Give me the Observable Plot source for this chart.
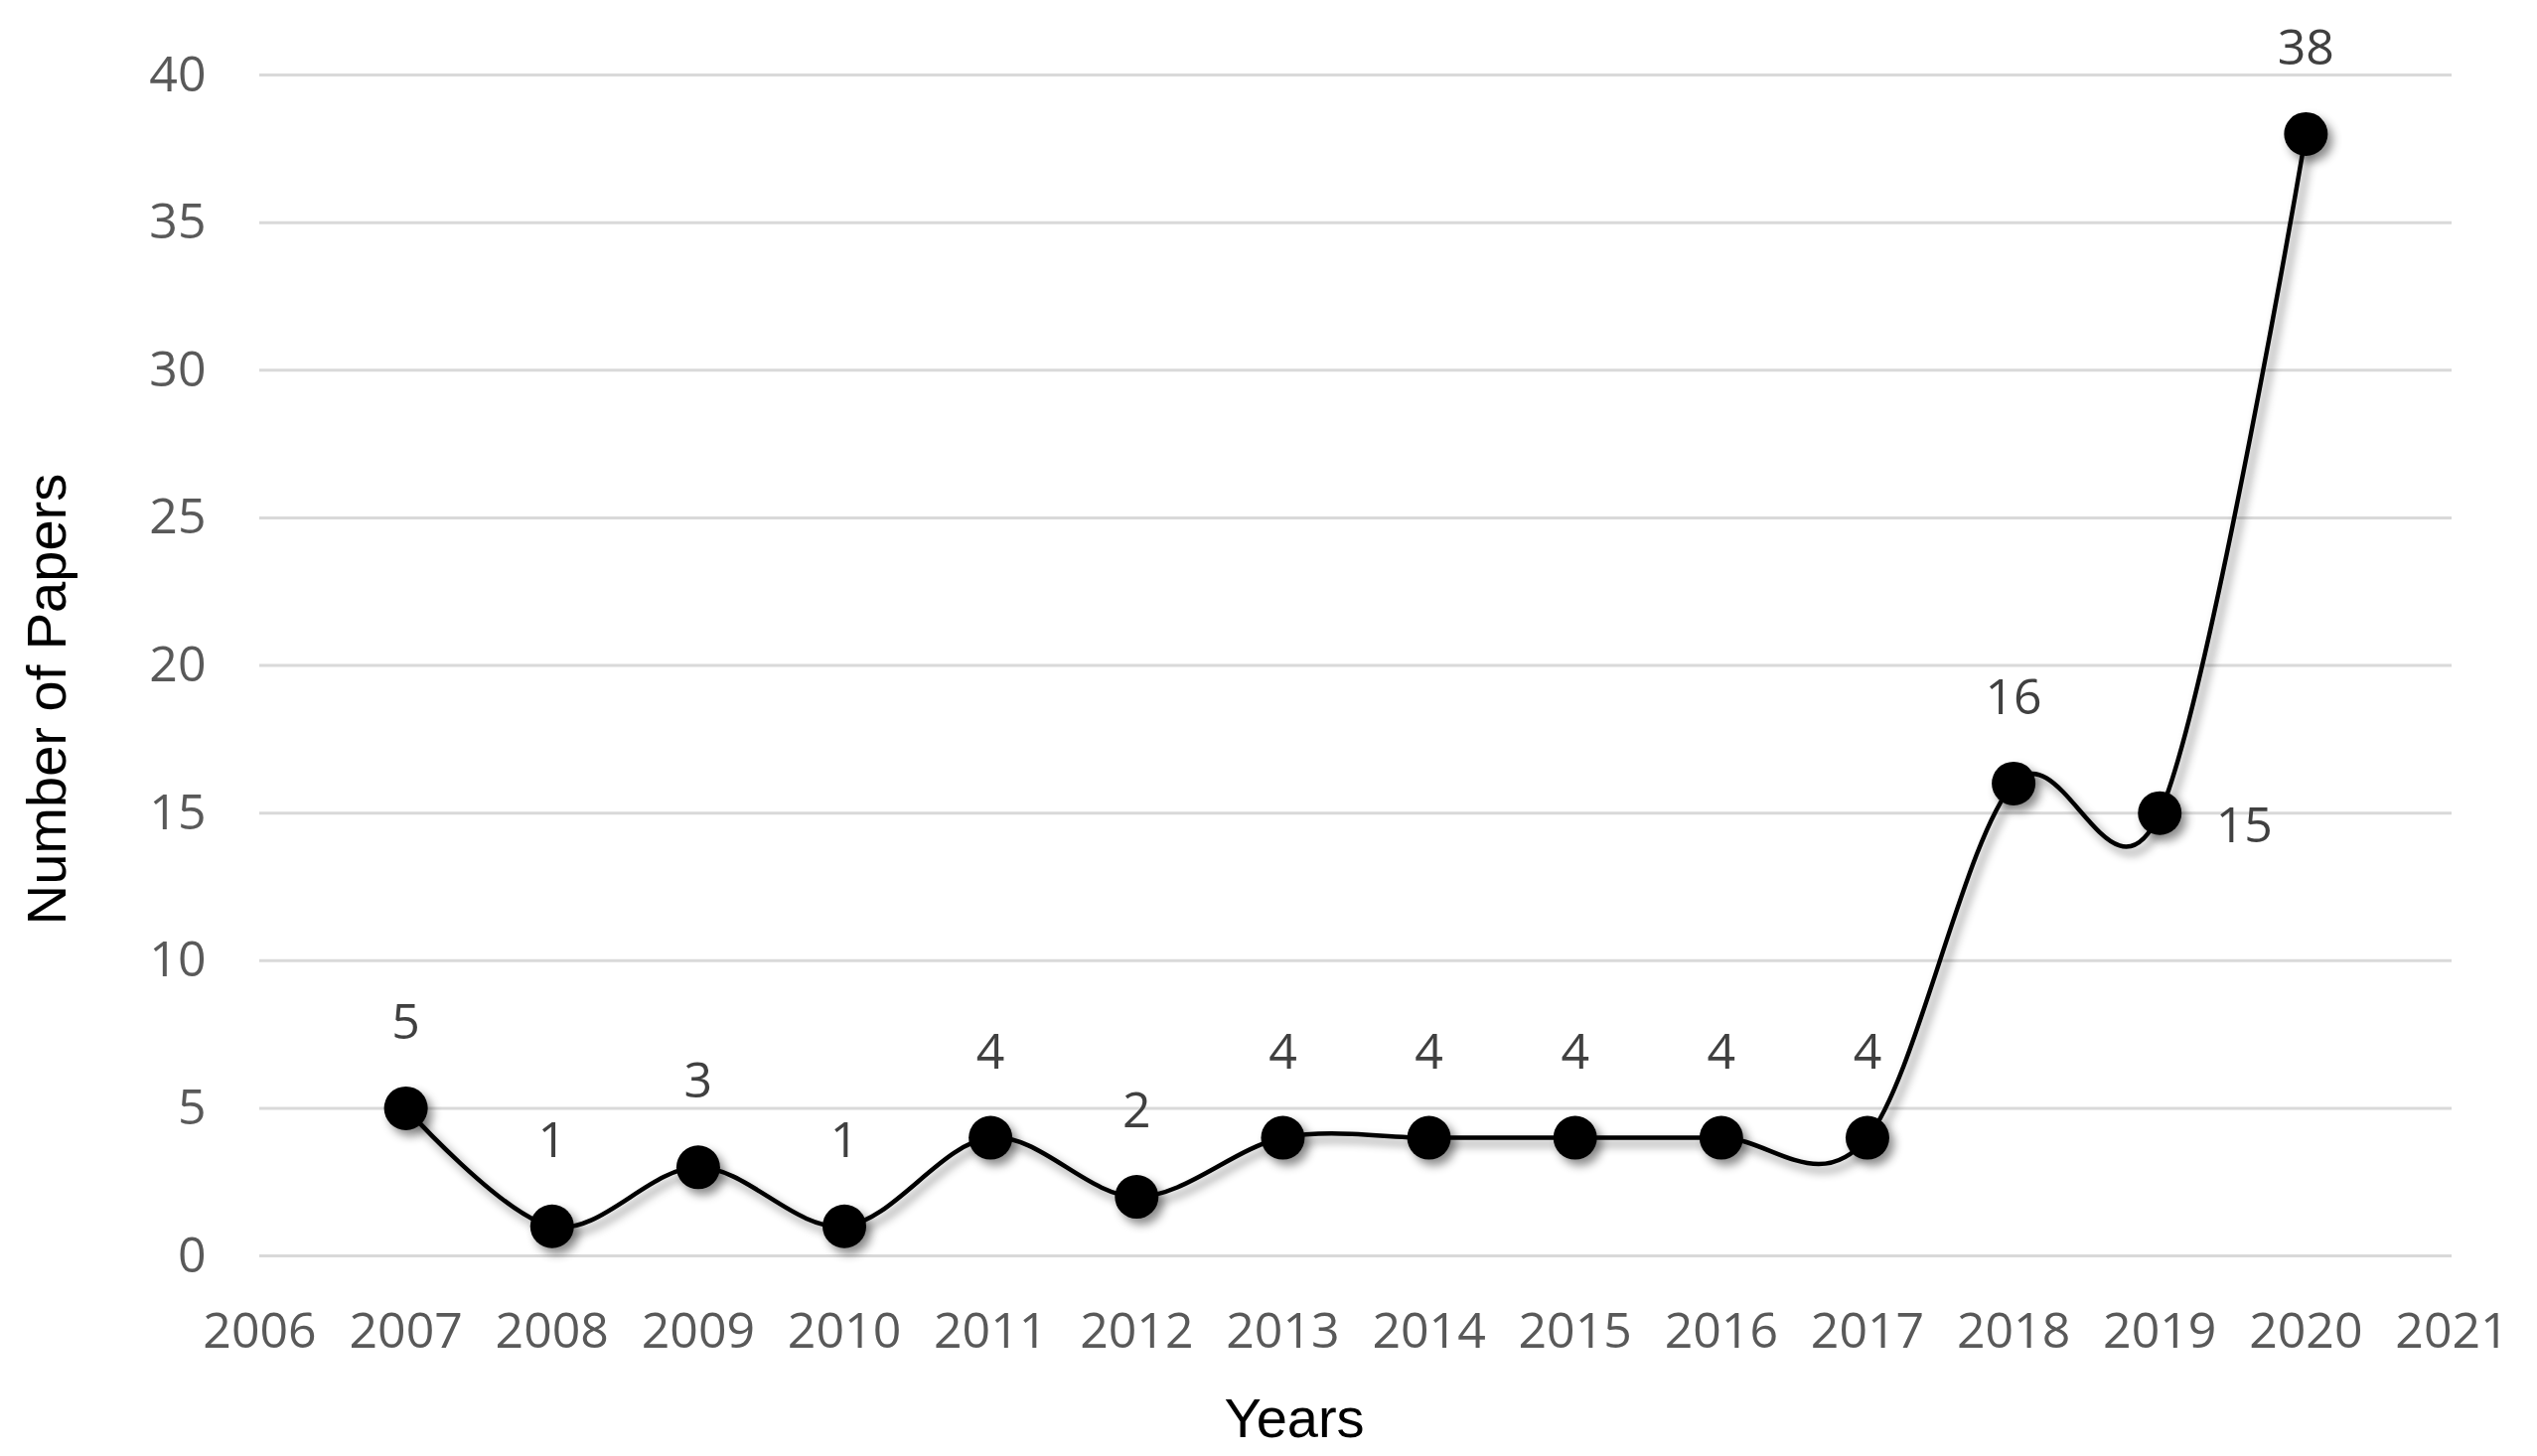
<!DOCTYPE html>
<html>
<head>
<meta charset="utf-8">
<script src="https://cdn.jsdelivr.net/npm/d3@7"></script>
<script src="https://cdn.jsdelivr.net/npm/@observablehq/plot@0.6"></script>
<style>
  html, body { margin: 0; padding: 0; background: #fff; }
  #chart { width: 2554px; height: 1466px; }
</style>
</head>
<body>
<div id="chart"></div>
<script>
const years = [2007, 2008, 2009, 2010, 2011, 2012, 2013, 2014, 2015, 2016, 2017, 2018, 2019, 2020];
const papers = [5, 1, 3, 1, 4, 2, 4, 4, 4, 4, 4, 16, 15, 38];
const xTicks = [2006, 2007, 2008, 2009, 2010, 2011, 2012, 2013, 2014, 2015, 2016, 2017, 2018, 2019, 2020, 2021];
const yTicks = [0, 5, 10, 15, 20, 25, 30, 35, 40];
const xTitle = "Years";
const yTitle = "Number of Papers";

const data = years.map((year, i) => ({year, value: papers[i]}));
const labelRight = [2019];
const titleFont = "'Liberation Sans', Arial, sans-serif";

const chart = Plot.plot({
  width: 2554,
  height: 1466,
  marginLeft: 261,
  marginRight: 86,
  marginTop: 75,
  marginBottom: 202,
  style: {fontFamily: "'Open Sans', sans-serif", background: "#fff", overflow: "visible"},
  x: {domain: [2006, 2021]},
  y: {domain: [0, 40]},
  marks: [
    Plot.gridY({ticks: yTicks, stroke: "#d9d9d9", strokeWidth: 3, strokeOpacity: 1}),
    Plot.axisY({ticks: yTicks, tickSize: 0, tickPadding: 54, fontSize: 50, color: "#595959", label: null}),
    Plot.axisX({ticks: xTicks, tickSize: 0, tickPadding: 57, tickFormat: d => String(d), fontSize: 50, color: "#595959", label: null}),
    Plot.line(data, {x: "year", y: "value", curve: "cardinal", tension: 0, stroke: "#000", strokeWidth: 4.5}),
    Plot.dot(data, {x: "year", y: "value", r: 22, fill: "#000", stroke: "none"}),
    Plot.text(data.filter(d => !labelRight.includes(d.year)), {x: "year", y: "value", text: d => String(d.value), dy: -86, fontSize: 50, fill: "#404040"}),
    Plot.text(data.filter(d => labelRight.includes(d.year)), {x: "year", y: "value", text: d => String(d.value), dx: 85, dy: 13, fontSize: 50, fill: "#404040"}),
    Plot.text([xTitle], {frameAnchor: "bottom", textAnchor: "middle", lineAnchor: "middle", dx: -62, dy: 165, fontSize: 56, fontFamily: titleFont, fill: "#000"}),
    Plot.text([yTitle], {frameAnchor: "left", textAnchor: "middle", lineAnchor: "middle", rotate: -90, dx: -213, dy: 34, fontSize: 56, fontFamily: titleFont, fill: "#000"})
  ]
});

// soft drop shadow like the original chart
const svg = d3.select(chart);
const defs = svg.insert("defs", ":first-child");
const f = defs.append("filter").attr("id", "shadow").attr("x", "-50%").attr("y", "-50%").attr("width", "200%").attr("height", "200%");
f.append("feDropShadow").attr("dx", 5).attr("dy", 6).attr("stdDeviation", 5).attr("flood-color", "#000").attr("flood-opacity", 0.45);
svg.selectAll('g[aria-label="line"], g[aria-label="dot"]').attr("filter", "url(#shadow)");

document.getElementById("chart").appendChild(chart);
</script>
</body>
</html>
